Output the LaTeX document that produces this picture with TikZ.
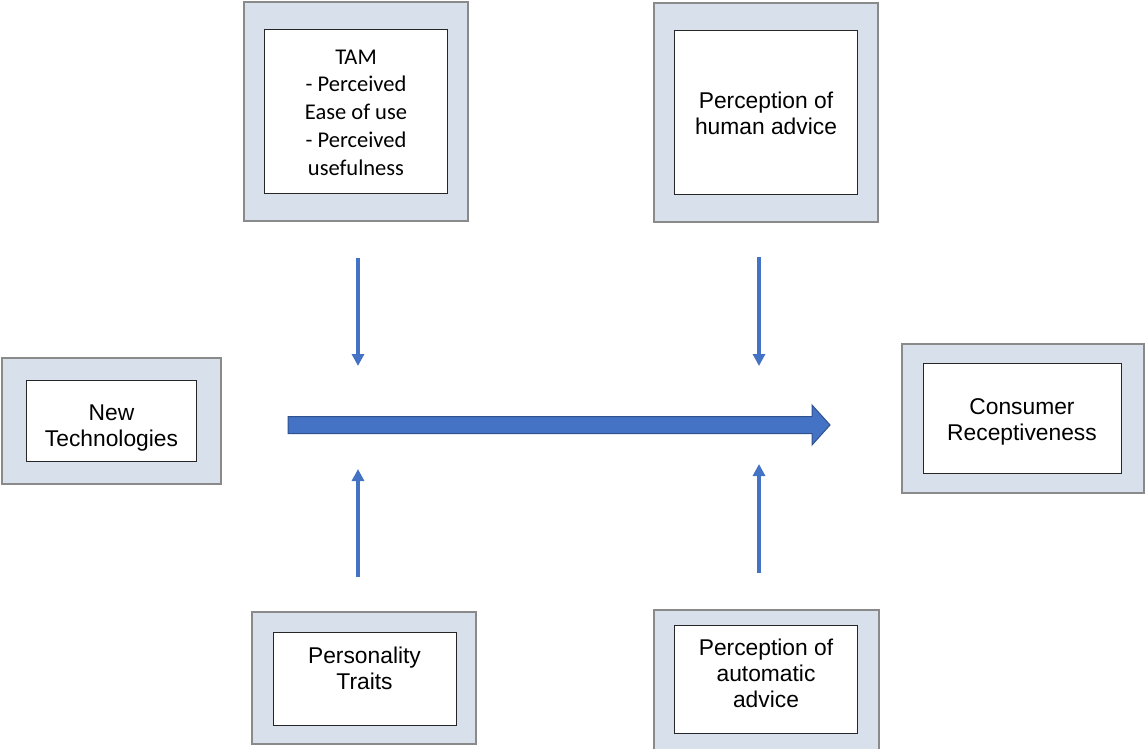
\documentclass[tikz,border=0pt]{standalone}
\usepackage{fontspec}
\setmainfont{Liberation Sans}
\newfontfamily\tamfont{Carlito}
\usetikzlibrary{arrows.meta, positioning}

\definecolor{frameFill}{HTML}{D7E0EB}
\definecolor{frameLine}{HTML}{8A8A8A}
\definecolor{arrowBlue}{HTML}{4472C4}
\definecolor{arrowEdge}{HTML}{2F528F}

\begin{document}
\begin{tikzpicture}[
    x=1pt, y=-1pt,
    every node/.style={align=center, font=\fontsize{22.8}{26.3}\selectfont},
    outerbox/.style={rectangle, draw=frameLine, fill=frameFill, line width=2pt, inner sep=0pt},
    innerbox/.style={rectangle, draw=black!85, fill=white, line width=1pt, inner sep=0pt},
    boxtext/.style={inner sep=0pt},
    smallarrow/.style={draw=arrowBlue, line width=3.2pt, -{Triangle[width=12pt,length=12pt]}},
    bigarrow/.style={fill=arrowBlue, draw=arrowEdge, line width=1pt}
]
\useasboundingbox (0,0) rectangle (1148,749);

% Outer frames
\node[outerbox, minimum width=224pt, minimum height=219pt] (tamOuter) at (356,111.5) {};
\node[outerbox, minimum width=224pt, minimum height=219pt] (humanOuter) at (766,112.5) {};
\node[outerbox, minimum width=219pt, minimum height=126pt] (newOuter) at (111.5,421) {};
\node[outerbox, minimum width=242pt, minimum height=149pt] (consOuter) at (1023,418.5) {};
\node[outerbox, minimum width=224pt, minimum height=132pt] (persOuter) at (364,678) {};
\node[outerbox, minimum width=225pt, minimum height=146pt] (autoOuter) at (766.5,683) {};

% Inner boxes
\node[innerbox, minimum width=183pt, minimum height=163pt] (tamInner) at (tamOuter.center) {};
\node[innerbox, minimum width=183pt, minimum height=163pt] (humanInner) at (humanOuter.center) {};
\node[innerbox, minimum width=170pt, minimum height=81pt] (newInner) at (newOuter.center) {};
\node[innerbox, minimum width=198pt, minimum height=110pt] (consInner) at (1022,418) {};
\node[innerbox, minimum width=183pt, minimum height=93pt] (persInner) at (364.5,678.5) {};
\node[innerbox, minimum width=183pt, minimum height=108pt] (autoInner) at (766,679.5) {};

% Labels
\node[boxtext, font=\tamfont\fontsize{22.5}{27.7}\selectfont] (tamText) at ([yshift=-1pt]tamInner.center)
    {TAM\\- Perceived\\Ease of use\\- Perceived\\usefulness};
\node[boxtext] (humanText) at ([yshift=-1pt]humanInner.center) {Perception of\\human advice};
\node[boxtext] (newText) at ([yshift=-7pt]newInner.center) {New\\Technologies};
\node[boxtext] (consText) at ([yshift=-4pt]consInner.center) {Consumer\\Receptiveness};
\node[boxtext] (persText) at ([yshift=10pt]persInner.center) {Personality\\Traits};
\node[boxtext] (autoText) at ([yshift=6pt]autoInner.center) {Perception of\\automatic\\advice};

% Main flow arrow
\coordinate (flowStart) at (288,425);
\coordinate (flowEnd) at (830,425);
\draw[bigarrow] (flowStart) ++(0,-8.5) -- (812,416.5) -- (812,405) -- (flowEnd)
    -- (812,445) -- (812,433.5) -- (288,433.5) -- cycle;

% Moderating arrows
\coordinate (tamFrom) at (358,258);   \coordinate (tamTo) at (358,366);
\coordinate (humanFrom) at (759,257); \coordinate (humanTo) at (759,366);
\coordinate (persFrom) at (358,577);  \coordinate (persTo) at (358,469);
\coordinate (autoFrom) at (759,573);  \coordinate (autoTo) at (759,464);
\draw[smallarrow] (tamFrom) -- (tamTo);
\draw[smallarrow] (humanFrom) -- (humanTo);
\draw[smallarrow] (persFrom) -- (persTo);
\draw[smallarrow] (autoFrom) -- (autoTo);

\end{tikzpicture}
\end{document}
